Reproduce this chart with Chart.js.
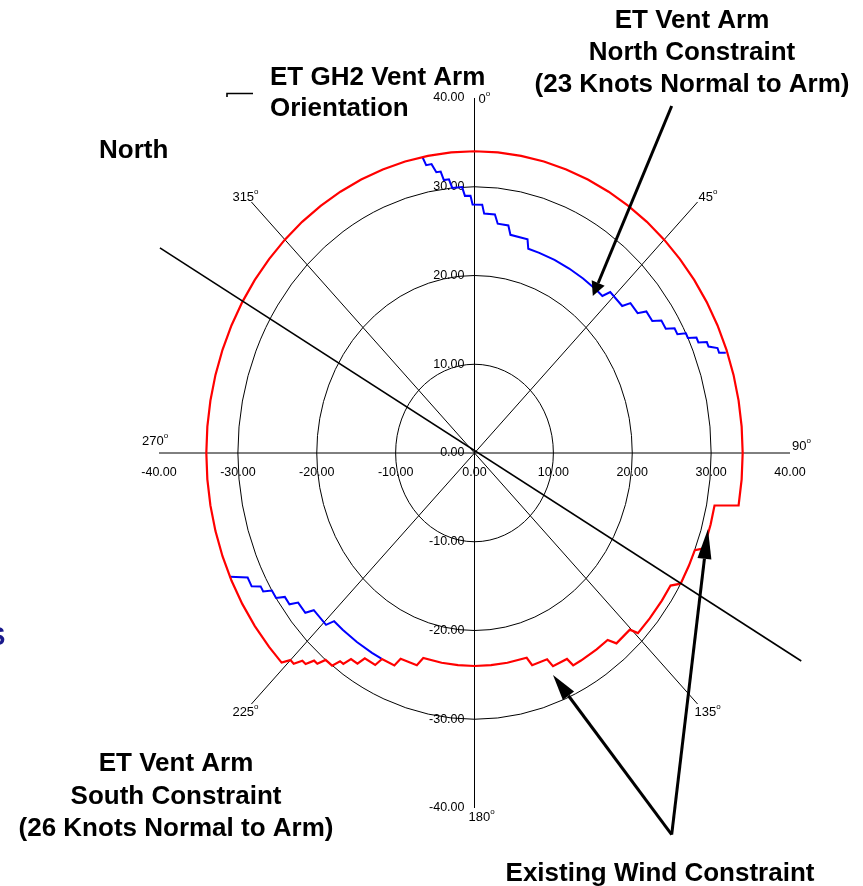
<!DOCTYPE html>
<html>
<head>
<meta charset="utf-8">
<title>ET Vent Arm Wind Constraints</title>
<script src="https://cdn.jsdelivr.net/npm/chart.js"></script>
<style>
  body { margin: 0; background: #fff; }
  #wrap { position: relative; width: 863px; height: 886px; }
</style>
</head>
<body>
<div id="wrap"><canvas id="windChart" width="863" height="886"></canvas></div>
<script>
  // knot ticks on the two axes, range rings and compass spokes
  const tickValues = [-40, -30, -20, -10, 0, 10, 20, 30, 40];
  const ringRadii = [10, 20, 30];
  const spokeAngles = [0, 45, 90, 135, 180, 225, 270, 315];
  const spokeLabels = ['0', '45', '90', '135', '180', '225', '270', '315'];

  // Existing wind constraint: bearing (deg) and wind speed (knots)
  const redAngles = [0, 5, 10, 15, 20, 25, 30, 35, 40, 45, 50, 55, 60, 65, 70, 75, 80, 85, 90, 95, 100,
    101, 105, 110.3, 111.4, 115, 119.4, 121, 125, 130, 134.4, 135.3, 140, 141.3, 145, 150, 152.4,
    153.2, 157.5, 158.4, 163, 164, 170, 175, 180, 185, 190, 195.7, 197, 202, 203, 206.8, 207.8, 211,
    212, 214, 215, 216, 217, 219, 220, 221, 222, 223, 224, 225, 226,
    230, 235, 240, 245, 250, 255, 260, 265, 270, 275, 280, 285, 290, 295, 300, 305, 310, 315, 320,
    325, 330, 335, 340, 345, 350, 355, 360];
  const redKnots = [34, 34, 34, 34, 34, 34, 34, 34, 34, 34, 34, 34, 34, 34, 34, 34, 34, 34, 34, 34, 34,
    31, 31, 31, 30, 30, 30, 29, 29, 29, 29, 28, 28, 27, 27, 27, 27,
    26, 26, 25, 25, 24, 24, 24, 24, 24, 24, 24, 25, 25, 26, 26, 27, 27,
    28, 28, 29, 29, 30, 30, 31, 31, 32, 32, 33, 33, 34,
    34, 34, 34, 34, 34, 34, 34, 34, 34, 34, 34, 34, 34, 34, 34, 34, 34, 34, 34,
    34, 34, 34, 34, 34, 34, 34, 34];

  // ET vent arm north constraint (23 knots normal to arm)
  const northAngles = [-11.2, -10.7, -9.5, -8.7, -7.7, -7.2, -6, -5.4, -3, -2.4, -1, -0.5, 2, 2.6, 5.5,
    6.5, 9.5, 10.5, 15.6, 16.5, 20, 25, 30, 35, 40, 42.5, 43.5, 48.5, 49.5, 52.7, 53.8, 56.6, 57.8,
    60, 61, 62.5, 63.3, 64.4, 65.2, 66.3, 67, 68, 69, 70, 70.5];
  const northKnots = [34, 33, 33, 32, 32, 31, 31, 30, 30, 29, 29, 28, 28, 27, 27,
    26, 26, 25, 25, 24, 24, 24, 24, 24, 24, 24, 25, 25, 26, 26, 27, 27, 28,
    28, 29, 29, 30, 30, 31, 31, 32, 32, 33, 33, 33.8];

  // ET vent arm south constraint (26 knots normal to arm)
  const southAngles = [245.8, 244, 242, 241, 239.8, 238.9, 237, 236, 234, 233, 230, 229, 224.2, 223.2,
    220, 215, 210, 207];
  const southKnots = [34, 32, 32, 31, 31, 30, 30, 29, 29, 28, 28, 27, 27, 26, 26, 26, 26, 26];

  // ET GH2 vent arm orientation line
  const armAngles = [300.1, 119.5];
  const armKnots = [46.1, 47.6];

  const toXY = (a, r) => ({ x: r * Math.sin(a * Math.PI / 180), y: r * Math.cos(a * Math.PI / 180) });
  const polarPoints = (angles, knots) => angles.map((a, i) => toXY(a, knots[i]));

  const FONT = "'Liberation Sans', Arial, sans-serif";

  // rings, spokes and tick labels drawn from the x/y scales
  const polarGrid = {
    id: 'polarGrid',
    beforeDatasetsDraw(chart) {
      const { ctx, scales: { x, y } } = chart;
      const cx = x.getPixelForValue(0), cy = y.getPixelForValue(0);
      ctx.save();
      ctx.strokeStyle = '#000';
      ctx.lineWidth = 1;
      ringRadii.forEach(r => {
        ctx.beginPath();
        ctx.ellipse(cx, cy, x.getPixelForValue(r) - cx, cy - y.getPixelForValue(r), 0, 0, 2 * Math.PI);
        ctx.stroke();
      });
      spokeAngles.forEach(a => {
        const p = toXY(a, 40);
        ctx.beginPath();
        ctx.moveTo(cx, cy);
        ctx.lineTo(x.getPixelForValue(p.x), y.getPixelForValue(p.y));
        ctx.stroke();
      });

      ctx.fillStyle = '#000';
      ctx.font = '12.5px ' + FONT;
      ctx.textBaseline = 'middle';
      // y axis labels, left of the axis
      ctx.textAlign = 'right';
      tickValues.forEach(v => ctx.fillText(v.toFixed(2), cx - 10, y.getPixelForValue(v)));
      // x axis labels, below the axis
      ctx.textAlign = 'center';
      tickValues.forEach(v => ctx.fillText(v.toFixed(2), x.getPixelForValue(v), cy + 20));

      // compass labels with a small "o" as degree sign
      const offs = [[4, 1], [1, -5], [2, -7], [-3, 8], [-6, 9], [-19, 8], [-17, -12], [-19, -5]];
      ctx.textAlign = 'left';
      spokeAngles.forEach((a, i) => {
        const p = toXY(a, 40);
        const px = x.getPixelForValue(p.x) + offs[i][0];
        const py = y.getPixelForValue(p.y) + offs[i][1];
        ctx.font = '13px ' + FONT;
        ctx.fillText(spokeLabels[i], px, py);
        const w = ctx.measureText(spokeLabels[i]).width;
        ctx.font = '8px ' + FONT;
        ctx.fillText('o', px + w, py - 5);
      });
      ctx.restore();
    }
  };

  function arrow(ctx, x0, y0, x1, y1, len, half) {
    const ang = Math.atan2(y1 - y0, x1 - x0);
    const bx = x1 - len * Math.cos(ang), by = y1 - len * Math.sin(ang);
    ctx.beginPath();
    ctx.moveTo(x0, y0);
    ctx.lineTo(bx, by);
    ctx.stroke();
    ctx.beginPath();
    ctx.moveTo(x1, y1);
    ctx.lineTo(bx + half * Math.sin(ang), by - half * Math.cos(ang));
    ctx.lineTo(bx - half * Math.sin(ang), by + half * Math.cos(ang));
    ctx.closePath();
    ctx.fill();
  }

  // callout text and arrows
  const callouts = {
    id: 'callouts',
    afterDraw(chart) {
      const { ctx, scales: { x, y } } = chart;
      const P = (dx, dy) => [x.getPixelForValue(dx), y.getPixelForValue(dy)];
      ctx.save();
      ctx.fillStyle = '#000';
      ctx.strokeStyle = '#000';

      // legend sample for the arm line
      ctx.lineWidth = 1.6;
      ctx.beginPath();
      ctx.moveTo(227, 97);
      ctx.lineTo(227, 93.5);
      ctx.lineTo(253, 93.5);
      ctx.stroke();

      ctx.font = 'bold 26px ' + FONT;
      ctx.textBaseline = 'alphabetic';
      ctx.textAlign = 'left';
      ctx.fillText('ET GH2 Vent Arm', 270, 85);
      ctx.fillText('Orientation', 270, 116);
      ctx.fillText('North', 99, 158);

      ctx.textAlign = 'center';
      ctx.fillText('ET Vent Arm', 692, 28);
      ctx.fillText('North Constraint', 692, 60);
      ctx.fillText('(23 Knots Normal to Arm)', 692, 92);
      ctx.fillText('ET Vent Arm', 176, 771);
      ctx.fillText('South Constraint', 176, 804);
      ctx.fillText('(26 Knots Normal to Arm)', 176, 836);
      ctx.fillText('Existing Wind Constraint', 660, 881);

      // clipped text at the left edge
      ctx.fillStyle = '#1a1a8c';
      ctx.textAlign = 'left';
      ctx.fillText('S', -12, 645);
      ctx.fillStyle = '#000';

      ctx.lineWidth = 3;
      arrow(ctx, ...P(25.0, 39.1), ...P(15.0, 17.7), 14, 7);
      arrow(ctx, ...P(25.0, -43.0), ...P(9.95, -25.0), 26, 7);
      arrow(ctx, ...P(25.0, -43.0), ...P(29.6, -8.56), 30, 7);
      ctx.restore();
    }
  };

  new Chart(document.getElementById('windChart').getContext('2d'), {
    type: 'scatter',
    data: {
      datasets: [
        { label: 'ET GH2 Vent Arm Orientation', data: polarPoints(armAngles, armKnots), showLine: true,
          borderColor: '#000', borderWidth: 1.6, pointRadius: 0, clip: false },
        { label: 'Existing Wind Constraint', data: polarPoints(redAngles, redKnots), showLine: true,
          borderColor: '#ff0000', borderWidth: 2.2, pointRadius: 0, clip: false },
        { label: 'North Constraint', data: polarPoints(northAngles, northKnots), showLine: true,
          borderColor: '#0000ff', borderWidth: 2, pointRadius: 0, clip: false },
        { label: 'South Constraint', data: polarPoints(southAngles, southKnots), showLine: true,
          borderColor: '#0000ff', borderWidth: 2, pointRadius: 0, clip: false }
      ]
    },
    options: {
      responsive: false,
      animation: false,
      layout: { padding: { left: 159, right: 73, top: 98, bottom: 78 } },
      plugins: { legend: { display: false }, tooltip: { enabled: false } },
      scales: {
        x: { type: 'linear', min: -40, max: 40, display: false },
        y: { type: 'linear', min: -40, max: 40, display: false }
      }
    },
    plugins: [polarGrid, callouts]
  });
</script>
</body>
</html>
